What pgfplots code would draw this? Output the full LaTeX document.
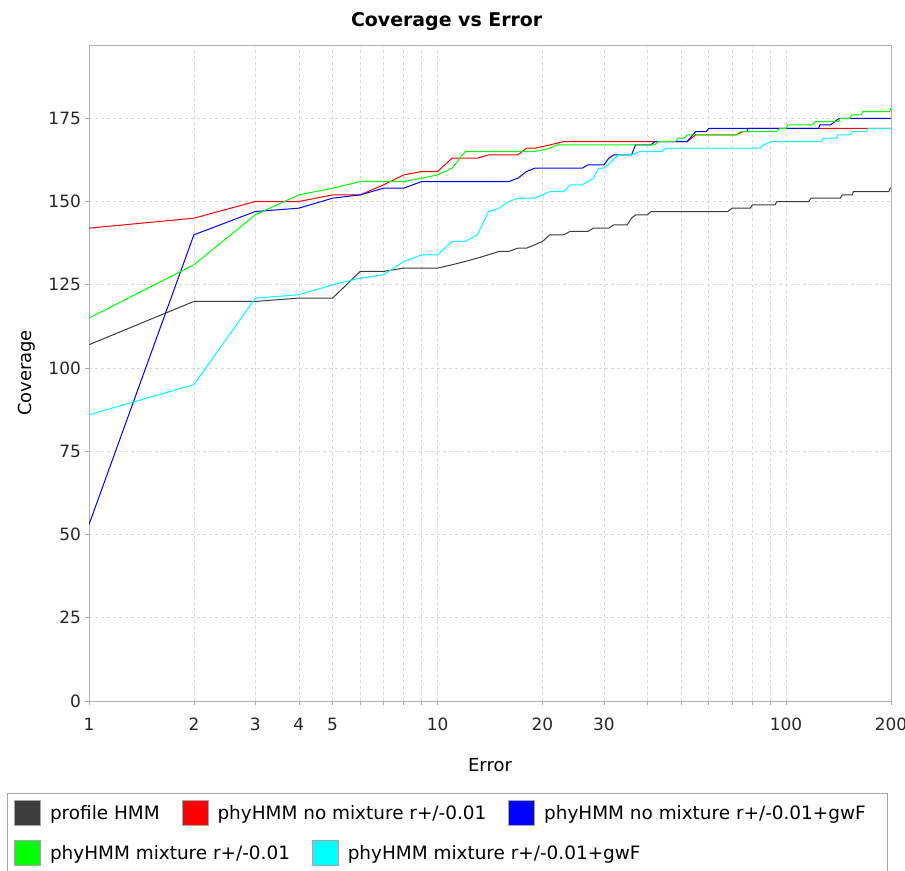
\documentclass[border=0pt]{standalone}
\usepackage{fontspec}
\setmainfont{DejaVu Sans}
\usepackage{pgfplots}
\usepackage{pgfplotstable}
\pgfplotsset{compat=1.18}
\definecolor{purecyan}{RGB}{0,255,255}
\definecolor{puregreen}{RGB}{0,255,0}
\definecolor{darkline}{RGB}{60,60,60}

\pgfplotstableread{
x y
1 107
2 120
3 120
4 121
5 121
6 129
7 129
8 130
10 130
11 131
12 132
13 133
14 134
15 135
16 135
17 136
18 136
19 137
20 138
21 140
23 140
24 141
27 141
28 142
31 142
32 143
35 143
36 145
37 146
40 146
41 147
68 147
70 148
79 148
80 149
93 149
94 150
116 150
118 151
143 151
145 152
155 152
156 153
197 153
199 154
200 154
}\profiledata

\pgfplotstableread{
x y
1 142
2 145
3 150
4 150
5 152
6 152
7 155
8 158
9 159
10 159
11 163
13 163
14 164
17 164
18 166
19 166
21 167
23 168
52 168
55 170
72 170
75 171
77 171
78 172
200 172
}\nomixdata

\pgfplotstableread{
x y
1 53
2 140
3 147
4 148
5 151
6 152
7 154
8 154
9 156
16 156
17 157
18 159
19 160
26 160
27 161
30 161
31 163
32 164
36 164
37 167
41 167
42 168
52 168
55 171
59 171
60 172
124 172
125 173
134 173
142 175
200 175
}\nomixgwdata

\pgfplotstableread{
x y
1 115
2 131
3 146
4 152
5 154
6 156
8 156
9 157
10 158
11 160
12 165
19 165
21 166
22 167
42 167
43 168
48 168
49 169
51 169
52 170
72 170
74 171
94 171
96 172
100 172
101 173
119 173
121 174
141 174
143 175
152 175
154 176
164 176
166 177
198 177
200 178
}\mixdata

\pgfplotstableread{
x y
1 86
2 95
3 121
4 122
5 125
6 127
7 128
8 132
9 134
10 134
11 138
12 138
13 140
14 147
15 148
16 150
17 151
19 151
21 153
23 153
24 155
26 155
28 157
29 160
30 160
31.5 162
33 164
36 164
38 165
44 165
45 166
84 166
86 167
91 168
126 168
128 169
139 169
141 170
152 170
155 171
170 171
172 172
200 172
}\mixgwdata

\pgfplotsset{
  legswatch/.style={
    legend image code/.code={\filldraw[##1,draw=gray!70,line width=0.8bp,solid] (0bp,-12.5bp) rectangle (26bp,12.5bp);},
  },
  mylegend/.style={
    legend columns=-1,
    legend style={draw=none, fill=none, inner sep=0pt, anchor=north west,
      font=\fontsize{18.5}{22}\selectfont,
      /tikz/every even column/.append style={column sep=20bp},
      /tikz/every odd column/.append style={column sep=7bp}},
    legend cell align=left,
  },
}

\begin{document}
\begin{tikzpicture}[x=1bp,y=1bp]
\useasboundingbox (0,0) rectangle (905,-871);
\begin{axis}[
  at={(89bp,-701bp)}, anchor=south west,
  scale only axis, width=802bp, height=656bp,
  xmode=log, log basis x=10,
  xmin=1, xmax=200, ymin=0, ymax=197,
  xtick={1,2,3,4,5,10,20,30,100,200},
  xticklabels={1,2,3,4,5,10,20,30,100,200},
  minor xtick={6,7,8,9,40,50,60,70,80,90},
  ytick={0,25,50,75,100,125,150,175},
  /pgf/number format/assume math mode=true,
  grid=both,
  grid style={gray!30, dash pattern=on 3bp off 3bp, line width=0.6bp},
  minor grid style={gray!30, dash pattern=on 3bp off 3bp, line width=0.6bp},
  axis line style={gray!60, line width=1bp},
  tick pos=left, tick align=outside,
  major tick length=4bp, minor tick length=4bp,
  tick style={gray!70, line width=0.6bp},
  ticklabel style={font=\fontsize{17}{20}\selectfont, text=black!85},
  xticklabel style={anchor=center, yshift=-19bp},
  yticklabel style={anchor=east, inner sep=0pt, xshift=-4bp},
  title={Coverage vs Error},
  every axis title shift=0pt,
  title style={font=\bfseries\fontsize{19}{22}\selectfont, at={(axis description cs:0.446,1.0358)}, anchor=center},
  xlabel={Error},
  xlabel style={font=\fontsize{18}{22}\selectfont, at={(axis description cs:0.5,-0.0976)}, anchor=center},
  ylabel={Coverage},
  ylabel style={font=\fontsize{18}{22}\selectfont, at={(axis description cs:-0.0773,0.5)}, anchor=center},
  legswatch, mylegend,
  legend style={at={(axis description cs:-0.0935,-0.1510)}},
]
\addplot[color=darkline, line width=1bp, mark=none] table[x=x,y=y] {\profiledata};
\addlegendentry{profile HMM}
\addplot[color=red, line width=1bp, mark=none] table[x=x,y=y] {\nomixdata};
\addlegendentry{phyHMM no mixture r+/-0.01}
\addplot[color=blue, line width=1bp, mark=none] table[x=x,y=y] {\nomixgwdata};
\addlegendentry{phyHMM no mixture r+/-0.01+gwF}
\addplot[color=puregreen, line width=1bp, mark=none] table[x=x,y=y] {\mixdata};
\addplot[color=purecyan, line width=1bp, mark=none] table[x=x,y=y] {\mixgwdata};
\end{axis}
\begin{axis}[
  at={(89bp,-701bp)}, anchor=south west,
  scale only axis, width=802bp, height=656bp,
  hide axis, xmin=0, xmax=1, ymin=0, ymax=1,
  legswatch, mylegend,
  legend style={at={(axis description cs:-0.0935,-0.2120)}},
]
\addlegendimage{color=puregreen, line width=1bp}
\addlegendentry{phyHMM mixture r+/-0.01}
\addlegendimage{color=purecyan, line width=1bp}
\addlegendentry{phyHMM mixture r+/-0.01+gwF}
\end{axis}
\draw[gray!70, line width=1bp] (7.5,-793) rectangle (887,-895);
\end{tikzpicture}
\end{document}
